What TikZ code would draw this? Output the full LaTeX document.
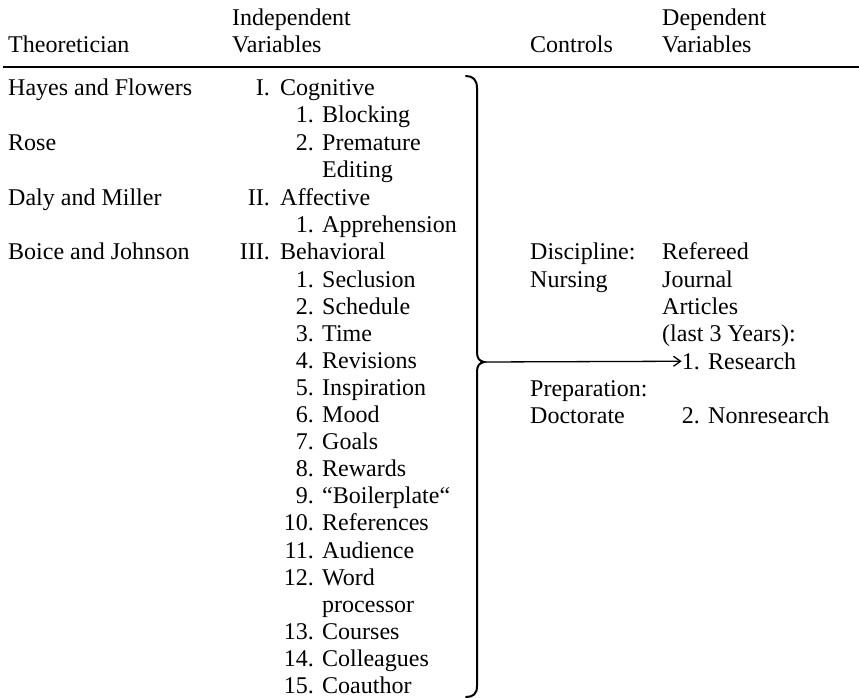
\documentclass[tikz,border=0pt]{standalone}
\usepackage{fontspec}
\setmainfont{Liberation Serif}
\usetikzlibrary{arrows.meta}
\tikzset{
    cell-text/.style = {anchor=base west, inner sep=0pt, font=\fontsize{24}{27}\selectfont},
    num-text/.style = {anchor=base east, inner sep=0pt, font=\fontsize{24}{27}\selectfont},
    rule-line/.style = {line width=1.5pt},
    brace-line/.style = {line width=2pt, line cap=round},
    link-arrow/.style = {line width=1.3pt, -{Straight Barb[length=7pt, width=10pt]}},
}

\begin{document}
\begin{tikzpicture}[x=1pt, y=-1pt]
\useasboundingbox (0,0) rectangle (859,698);

% column heads
\node[cell-text] (head-theo) at (8,53) {Theoretician};
\node[cell-text] (head-ind) at (232,26) {Independent};
\node[cell-text] (head-ind2) at (232,53) {Variables};
\node[cell-text] (head-ctrl) at (530,53) {Controls};
\node[cell-text] (head-dep) at (662,26) {Dependent};
\node[cell-text] (head-dep2) at (662,53) {Variables};
\coordinate (rule-l) at (3,67);
\coordinate (rule-r) at (859,67);
\draw[rule-line] (rule-l) -- (rule-r);

% theoreticians
\node[cell-text] (theo-1) at (8,96) {Hayes and Flowers};
\node[cell-text] (theo-2) at (8,150) {Rose};
\node[cell-text] (theo-3) at (8,205) {Daly and Miller};
\node[cell-text] (theo-4) at (8,259) {Boice and Johnson};

% independent variables
\node[num-text] (cat-num-1) at (270,96) {I.};
\node[cell-text] (cat-1) at (280,96) {Cognitive};
\node[num-text] (cog-num-1) at (314,123) {1.};
\node[cell-text] (cog-1) at (322,123) {Blocking};
\node[num-text] (cog-num-2) at (314,150) {2.};
\node[cell-text] (cog-2) at (322,150) {Premature};
\node[cell-text] (cog-2b) at (322,177) {Editing};
\node[num-text] (cat-num-2) at (270,205) {II.};
\node[cell-text] (cat-2) at (280,205) {Affective};
\node[num-text] (aff-num-1) at (314,232) {1.};
\node[cell-text] (aff-1) at (322,232) {Apprehension};
\node[num-text] (cat-num-3) at (270,259) {III.};
\node[cell-text] (cat-3) at (280,259) {Behavioral};
\foreach \n/\t/\r in {1/Seclusion/0, 2/Schedule/1, 3/Time/2, 4/Revisions/3,
    5/Inspiration/4, 6/Mood/5, 7/Goals/6, 8/Rewards/7, 9/“Boilerplate“/8,
    10/References/9, 11/Audience/10, 12/Word/11, 13/Courses/13,
    14/Colleagues/14, 15/Coauthor/15}
    {
    \node[num-text] (beh-num-\n) at (314,287+27.1*\r) {\n.};
    \node[cell-text] (beh-\n) at (322,287+27.1*\r) {\t};
    }
\node[cell-text] (beh-12b) at (322,287+27.1*12) {processor};

% controls
\node[cell-text] (ctrl-1) at (530,259) {Discipline:};
\node[cell-text] (ctrl-1b) at (530,287) {Nursing};
\node[cell-text] (ctrl-2) at (530,396) {Preparation:};
\node[cell-text] (ctrl-2b) at (530,423) {Doctorate};

% dependent variables
\node[cell-text] (dep-1) at (662,259) {Refereed};
\node[cell-text] (dep-2) at (662,287) {Journal};
\node[cell-text] (dep-3) at (662,314) {Articles};
\node[cell-text] (dep-4) at (662,341) {(last 3 Years):};
\node[num-text] (dep-num-1) at (700,369) {1.};
\node[cell-text] (res-1) at (708,369) {Research};
\node[num-text] (dep-num-2) at (700,423) {2.};
\node[cell-text] (res-2) at (708,423) {Nonresearch};

% brace and arrow
\draw[brace-line] (466,76) .. controls (473,76) and (477,80) .. (477,88)
    -- (477,352) .. controls (477,358) and (479,361) .. (484,362)
    .. controls (479,363) and (477,366) .. (477,372)
    -- (477,686) .. controls (477,694) and (473,697) .. (466,697);
\coordinate (brace-tip) at (484,362);
\draw[link-arrow] (brace-tip) -- (dep-num-1.west);
\end{tikzpicture}
\end{document}
